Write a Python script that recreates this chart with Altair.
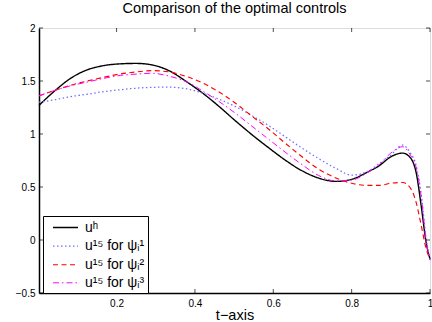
import altair as alt
import pandas as pd

# ---- data ----
t = [0.002, 0.045, 0.083, 0.125, 0.167, 0.21, 0.25, 0.29, 0.335, 0.38, 0.42, 0.46, 0.5,
     0.545, 0.59, 0.63, 0.67, 0.715, 0.76, 0.8, 0.84, 0.87, 0.9, 0.93, 0.95, 0.965,
     0.978, 0.99, 1.0]

u_h = [1.27, 1.416, 1.526, 1.605, 1.645, 1.662, 1.666, 1.652, 1.595, 1.49, 1.385, 1.265, 1.135,
       0.995, 0.865, 0.755, 0.66, 0.585, 0.553, 0.572, 0.64, 0.70, 0.785, 0.82, 0.775, 0.63,
       0.31, -0.02, -0.18]

u_psi1 = [1.30, 1.325, 1.353, 1.375, 1.40, 1.418, 1.432, 1.440, 1.442, 1.425, 1.385, 1.33, 1.265,
          1.175, 1.075, 0.975, 0.875, 0.77, 0.675, 0.612, 0.645, 0.72, 0.80, 0.895, 0.82, 0.70,
          0.42, 0.02, -0.19]

u_psi2 = [1.36, 1.415, 1.46, 1.50, 1.535, 1.567, 1.585, 1.598, 1.585, 1.54, 1.48, 1.40, 1.30,
          1.17, 1.04, 0.915, 0.795, 0.67, 0.585, 0.535, 0.515, 0.515, 0.535, 0.543, 0.49, 0.35,
          0.13, -0.08, -0.18]

u_psi3 = [1.36, 1.415, 1.455, 1.49, 1.525, 1.553, 1.565, 1.573, 1.545, 1.49, 1.405, 1.31, 1.205,
          1.075, 0.945, 0.83, 0.72, 0.61, 0.557, 0.565, 0.635, 0.71, 0.82, 0.88, 0.80, 0.68,
          0.40, 0.0, -0.19]

labels = ["uʰ", "u¹⁵ for ψᵢ¹", "u¹⁵ for ψᵢ²", "u¹⁵ for ψᵢ³"]
colors = ["#000000", "#6f6fff", "#ff0000", "#ff00ff"]
dashes = [[1, 0], [1.5, 2.5], [5, 3.5], [6, 3, 1.5, 3]]
widths = [1.4, 1.0, 1.0, 1.0]

x_ticks = [0.2, 0.4, 0.6, 0.8, 1.0]
y_ticks = [-0.5, 0, 0.5, 1, 1.5, 2]

rows = []
for name, vals in zip(labels, [u_h, u_psi1, u_psi2, u_psi3]):
    for i, (tt, v) in enumerate(zip(t, vals)):
        rows.append({"t": tt, "u": v, "series": name, "order": i})
df = pd.DataFrame(rows)

W, H = 391, 265
FONT = "Liberation Sans"

xscale = alt.Scale(domain=[0.002, 1.0], nice=False, zero=False)
yscale = alt.Scale(domain=[-0.5, 2.0], nice=False, zero=False)

legend = alt.Legend(
    title=None, orient="none", legendX=4, legendY=188,
    strokeColor="black", fillColor="white", padding=3,
    symbolType="M-1.667,0H1.667", symbolSize=225, symbolStrokeWidth=1.2,
    symbolOffset=11,
    labelFont=FONT, labelFontSize=14, labelColor="black", labelOffset=11,
    rowPadding=2.6, cornerRadius=0,
)

lines = alt.Chart(df).mark_line(interpolate="monotone").encode(
    x=alt.X("t:Q", scale=xscale,
            axis=alt.Axis(values=x_ticks, format="~g", title="t−axis", grid=False,
                          ticks=False, labelFlush=False, labelOverlap=False, labelBound=False,
                          labelPadding=5, titleY=26, titleBaseline="alphabetic",
                          titleFontWeight="normal", titleFont=FONT, titleFontSize=14.5,
                          domainColor="black", domainWidth=1.5)),
    y=alt.Y("u:Q", scale=yscale,
            axis=alt.Axis(values=y_ticks, format="~g", title=None, grid=False,
                          ticks=False, labelFlush=False, labelOverlap=False, labelPadding=4,
                          domainColor="black", domainWidth=1.5)),
    color=alt.Color("series:N", scale=alt.Scale(domain=labels, range=colors),
                    sort=labels, legend=legend),
    strokeDash=alt.StrokeDash("series:N", scale=alt.Scale(domain=labels, range=dashes),
                              sort=labels, legend=legend),
    strokeWidth=alt.StrokeWidth("series:N", scale=alt.Scale(domain=labels, range=widths),
                                legend=None),
    order="order:Q",
)

xt = pd.DataFrame({"v": x_ticks})
yt = pd.DataFrame({"v": y_ticks})

tick_x_bottom = alt.Chart(xt).mark_tick(orient="vertical", size=4, thickness=1, color="black").encode(
    x=alt.X("v:Q", scale=xscale), y=alt.value(H - 2))
tick_x_top = alt.Chart(xt).mark_tick(orient="vertical", size=4, thickness=1, color="black").encode(
    x=alt.X("v:Q", scale=xscale), y=alt.value(2))
tick_y_left = alt.Chart(yt).mark_tick(orient="horizontal", size=4, thickness=1, color="black").encode(
    y=alt.Y("v:Q", scale=yscale), x=alt.value(2))
tick_y_right = alt.Chart(yt).mark_tick(orient="horizontal", size=4, thickness=1, color="black").encode(
    y=alt.Y("v:Q", scale=yscale), x=alt.value(W - 2))

chart = alt.layer(
    lines, tick_x_bottom, tick_x_top, tick_y_left, tick_y_right
).properties(
    width=W, height=H,
    title=alt.TitleParams("Comparison of the optimal controls", fontSize=14.5, font=FONT,
                          fontWeight="normal", color="black", anchor="middle", offset=7),
    autosize=alt.AutoSizeParams(type="none"),
    padding={"left": 39, "top": 28, "right": 2, "bottom": 29},
).configure_view(
    stroke="black", strokeWidth=1
).configure_axis(
    labelFont=FONT, labelFontSize=14.5, labelColor="black",
    titleFont=FONT, titleFontSize=14.5, titleColor="black", titleFontWeight="normal",
).configure_legend(
    strokeWidth=1.5,
).configure(background="white")

chart.save("out.html", embed_options={"renderer": "svg", "actions": False})
